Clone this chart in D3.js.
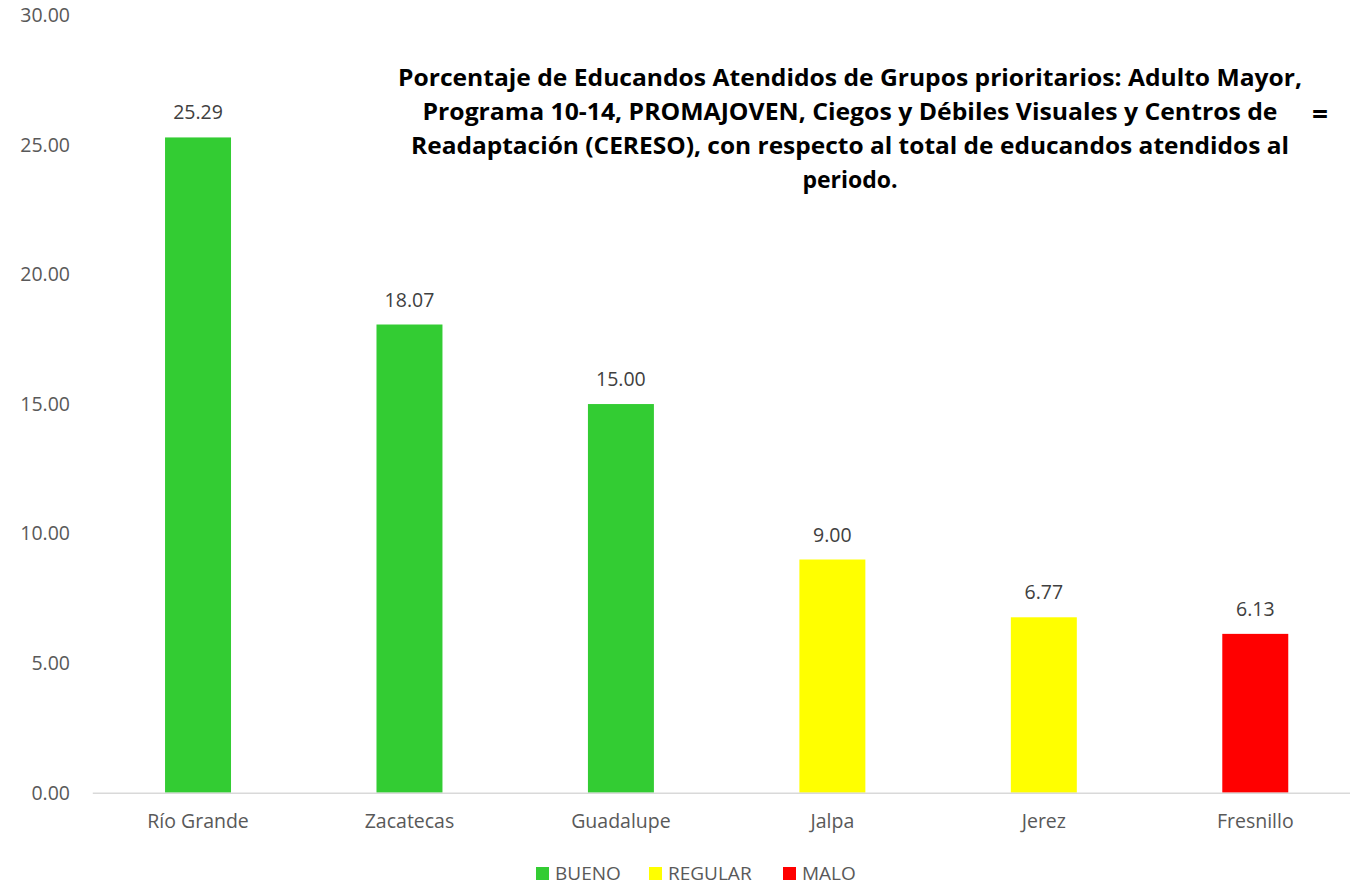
<!DOCTYPE html>
<html>
<head>
<meta charset="utf-8">
<script src="https://cdn.jsdelivr.net/npm/d3@7"></script>
<style>
  body { margin: 0; background: #fff; }
  svg { display: block; font-family: "Open Sans", "Noto Sans", sans-serif; }
</style>
</head>
<body>
<div id="app"></div>
<script>
const categories = ["Río Grande", "Zacatecas", "Guadalupe", "Jalpa", "Jerez", "Fresnillo"];
const values = [25.29, 18.07, 15.00, 9.00, 6.77, 6.13];
const ratings = ["BUENO", "BUENO", "BUENO", "REGULAR", "REGULAR", "MALO"];
const legendLabels = ["BUENO", "REGULAR", "MALO"];
const legendColors = ["#33CC33", "#FFFF00", "#FF0000"];
const yTicks = [0, 5, 10, 15, 20, 25, 30];
const titleLines = [
  "Porcentaje de Educandos Atendidos de Grupos prioritarios: Adulto Mayor,",
  "Programa 10-14, PROMAJOVEN, Ciegos y Débiles Visuales y Centros de",
  "Readaptación (CERESO), con respecto al total de educandos atendidos al",
  "periodo."
];
const titleWidths = [904, 855, 878, null];

const w = 1350, h = 886;
const plotLeft = 92.3, plotRight = 1361, plotTop = 15.4, plotBottom = 792.7;
const fs = "19.5px";

const svg = d3.select("#app")
  .append("svg")
  .attr("width", w)
  .attr("height", h);

const xScale = d3.scaleBand()
  .domain(categories)
  .range([plotLeft, plotRight])
  .paddingInner(0.688)
  .paddingOuter(0.344);

const yScale = d3.scaleLinear()
  .domain([0, 30])
  .range([plotBottom, plotTop]);

const color = d3.scaleOrdinal().domain(legendLabels).range(legendColors);

// y labels (no axis line)
svg.append("g")
  .selectAll("text")
  .data(yTicks)
  .enter()
  .append("text")
  .attr("x", 70)
  .attr("y", d => yScale(d))
  .attr("dy", "0.35em")
  .attr("text-anchor", "end")
  .attr("fill", "#595959")
  .style("font-size", fs)
  .text(d => d.toFixed(2));

// bars
svg.selectAll(".bar")
  .data(values)
  .enter()
  .append("rect")
  .attr("class", "bar")
  .attr("x", (d, i) => xScale(categories[i]))
  .attr("y", d => yScale(d))
  .attr("width", xScale.bandwidth())
  .attr("height", d => plotBottom - yScale(d))
  .attr("fill", (d, i) => color(ratings[i]));

// baseline
const xAxis = d3.axisBottom(xScale).tickSize(0).tickPadding(21);
const gx = svg.append("g")
  .attr("transform", `translate(0,${plotBottom})`)
  .call(xAxis);
gx.select(".domain").attr("stroke", "#d9d9d9").attr("stroke-width", 1.5);
gx.selectAll("text")
  .attr("fill", "#595959")
  .style("font-size", fs)
  .style("font-family", "'Open Sans', sans-serif");

// value labels
svg.selectAll(".lbl")
  .data(values)
  .enter()
  .append("text")
  .attr("class", "lbl")
  .attr("x", (d, i) => xScale(categories[i]) + xScale.bandwidth() / 2)
  .attr("y", d => yScale(d) - 18)
  .attr("text-anchor", "middle")
  .attr("fill", "#404040")
  .style("font-size", fs)
  .text(d => d.toFixed(2));

// title
svg.append("g")
  .selectAll("text")
  .data(titleLines)
  .enter()
  .append("text")
  .attr("x", 850)
  .attr("y", (d, i) => 86 + i * 34)
  .attr("text-anchor", "middle")
  .attr("fill", "#000")
  .attr("textLength", (d, i) => titleWidths[i])
  .attr("lengthAdjust", "spacingAndGlyphs")
  .style("font-size", "23px")
  .style("font-weight", "bold")
  .text(d => d);

svg.append("text")
  .attr("x", 1320)
  .attr("y", 124)
  .attr("text-anchor", "middle")
  .style("font-size", "28px")
  .style("font-weight", "bold")
  .text("=");

// legend
const legendX = [536, 649, 783];
const lg = svg.append("g");
legendLabels.forEach((l, i) => {
  lg.append("rect")
    .attr("x", legendX[i])
    .attr("y", 867)
    .attr("width", 13)
    .attr("height", 13)
    .attr("fill", legendColors[i]);
  lg.append("text")
    .attr("x", legendX[i] + 19)
    .attr("y", 873.5)
    .attr("dy", "0.35em")
    .attr("fill", "#595959")
    .style("font-size", "19px")
    .text(l);
});
</script>
</body>
</html>
